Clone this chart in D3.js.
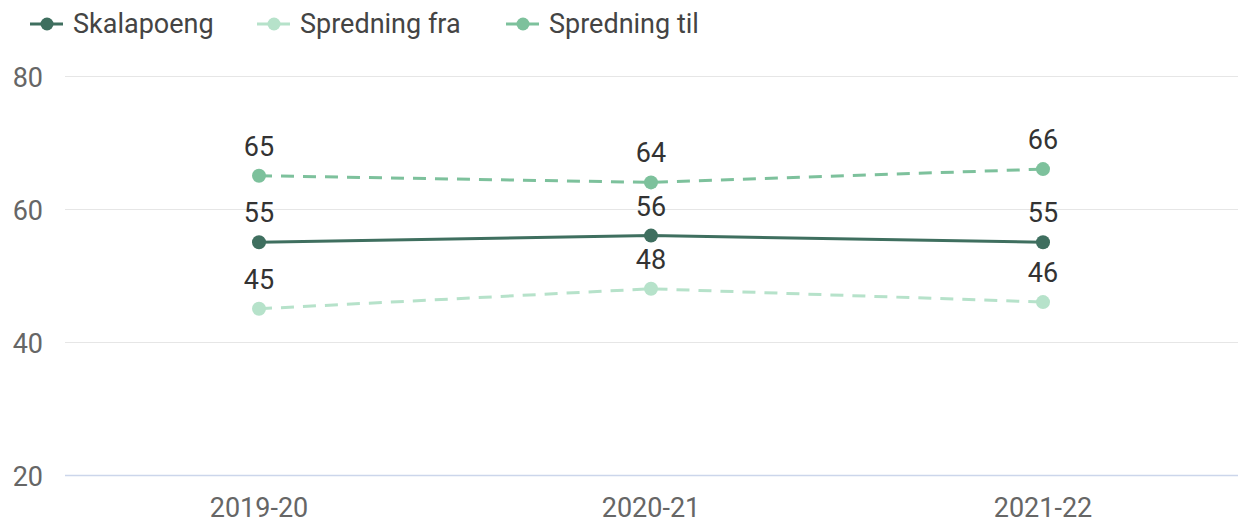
<!DOCTYPE html>
<html><head><meta charset="utf-8">
<script src="https://cdn.jsdelivr.net/npm/d3@7"></script>
<style>body{margin:0;background:#fff;} svg{display:block;font-family:Roboto, sans-serif;}</style>
</head><body>
<svg id="c" width="1244" height="525"></svg>
<script>
const categories = ["2019-20", "2020-21", "2021-22"];
const skalapoeng = [55, 56, 55];
const spredningFra = [45, 48, 46];
const spredningTil = [65, 64, 66];
const yTicks = [20, 40, 60, 80];

(function () {
const series = [
  {name: "Skalapoeng", values: skalapoeng, color: "#3f6f5f", dash: null},
  {name: "Spredning fra", values: spredningFra, color: "#b6e2ca", dash: "13,9"},
  {name: "Spredning til", values: spredningTil, color: "#7dc19c", dash: "13,9"}
];

const svg = d3.select("#c");
const plotLeft = 65, plotRight = 1238, plotTop = 76, plotBottom = 475;
const x = d3.scaleBand().domain(categories).range([63, 1239]);
const y = d3.scaleLinear().domain([20, 80]).range([plotBottom, plotTop]);

svg.append("g").selectAll("line").data(yTicks).join("line")
  .attr("x1", plotLeft).attr("x2", plotRight)
  .attr("y1", d => Math.round(y(d)) + 0.5).attr("y2", d => Math.round(y(d)) + 0.5)
  .attr("stroke", d => d === 20 ? "#ccd6eb" : "#e6e6e6").attr("stroke-width", d => d === 20 ? 1.5 : 1);

svg.append("g").selectAll("text").data(yTicks).join("text")
  .attr("x", 43).attr("y", d => y(d) + 11).attr("text-anchor", "end")
  .attr("font-size", 27).attr("fill", "#666").text(d => d);

svg.append("g").selectAll("text").data(categories).join("text")
  .attr("x", d => x(d) + x.bandwidth() / 2).attr("y", 517).attr("text-anchor", "middle")
  .attr("font-size", 27).attr("fill", "#666").text(d => d);

const cx = d => x(d) + x.bandwidth() / 2;
const line = d3.line().x((v, i) => cx(categories[i])).y(v => y(v));

[series[2], series[1], series[0]].forEach(s => {
  svg.append("path").attr("d", line(s.values)).attr("fill", "none")
    .attr("stroke", s.color).attr("stroke-width", 3)
    .attr("stroke-dasharray", s.dash);
  svg.append("g").selectAll("circle").data(s.values).join("circle")
    .attr("cx", (v, i) => cx(categories[i])).attr("cy", v => y(v)).attr("r", 7)
    .attr("fill", s.color);
  svg.append("g").selectAll("text").data(s.values).join("text")
    .attr("x", (v, i) => cx(categories[i])).attr("y", v => y(v) - 20)
    .attr("text-anchor", "middle").attr("font-size", 27).attr("fill", "#333")
    .text(v => v);
});

const legTextX = [73, 300, 549];
const lg = svg.append("g");
series.forEach((s, i) => {
  const tx = legTextX[i];
  lg.append("line").attr("x1", tx - 43).attr("x2", tx - 10).attr("y1", 24).attr("y2", 24)
    .attr("stroke", s.color).attr("stroke-width", 3).attr("stroke-dasharray", s.dash ? "13,9" : null);
  lg.append("circle").attr("cx", tx - 26).attr("cy", 24).attr("r", 6.5).attr("fill", s.color);
  lg.append("text").attr("x", tx).attr("y", 33).attr("font-size", 27).attr("fill", "#444").text(s.name);
});
})();
</script>
</body></html>
